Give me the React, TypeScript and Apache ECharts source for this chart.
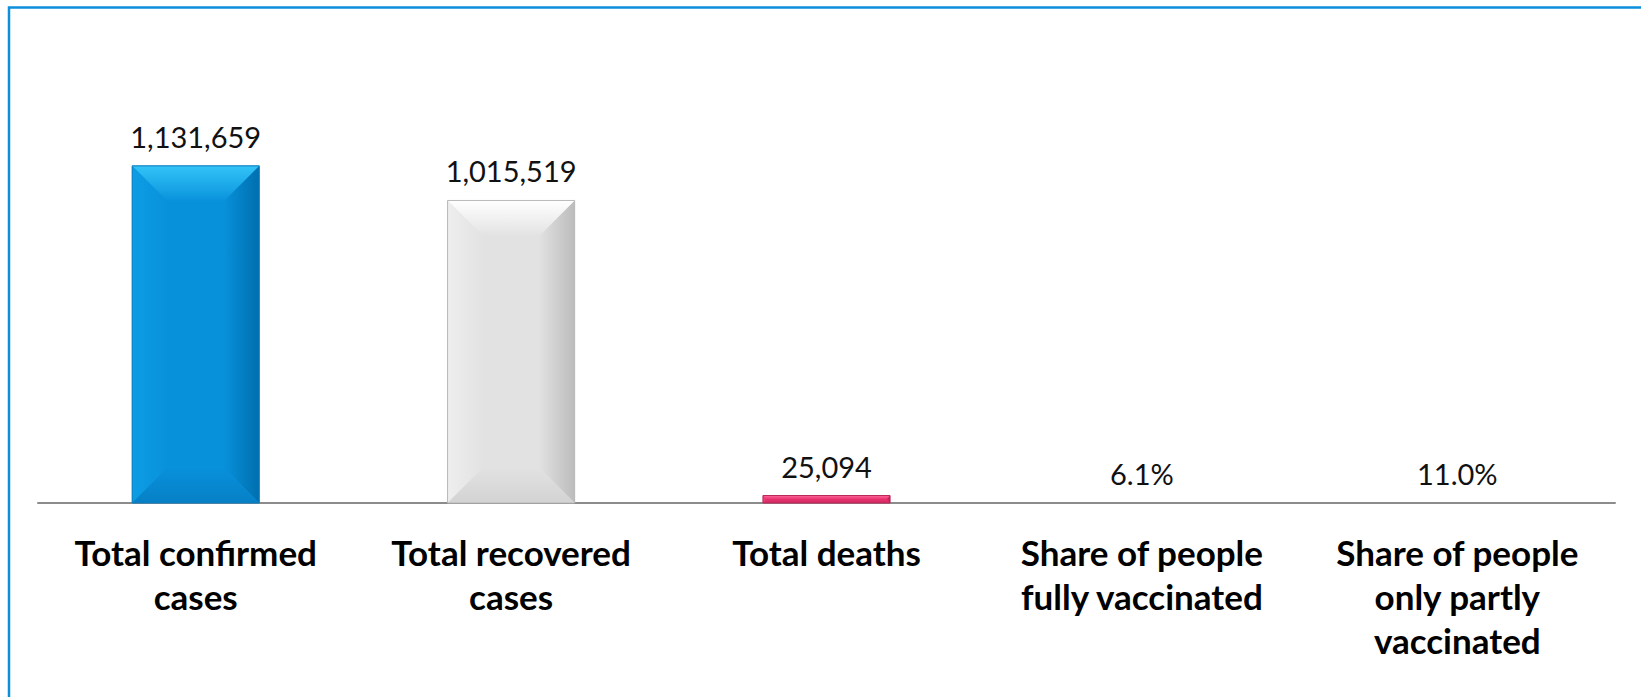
import React, { useEffect, useRef } from "react";
import * as echarts from "echarts";

const categories = [
  "Total confirmed\ncases",
  "Total recovered\ncases",
  "Total deaths",
  "Share of people\nfully vaccinated",
  "Share of people\nonly partly\nvaccinated",
];
const values = [1131659, 1015519, 25094, 0.061, 0.11];
const valueLabels = ["1,131,659", "1,015,519", "25,094", "6.1%", "11.0%"];

const blue = { main: "#0891db", top: "#33c4f8", left: "#0d9de4", right: "#006fae", bottom: "#0680c6", border: "#0a7bbd" };
const palettes = [
  blue,
  { main: "#e2e2e2", top: "#ffffff", left: "#eeeeee", right: "#bcbcbc", bottom: "#d3d3d3", border: "#b8b8b8" },
  { main: "#e8316f", top: "#ff6a9e", left: "#ef4580", right: "#b31c51", bottom: "#d02a63", border: "#b8285a" },
  blue,
  blue,
];

export default function App() {
  const ref = useRef<HTMLDivElement>(null);
  useEffect(() => {
    const chart = echarts.init(ref.current!, null, { renderer: "svg" });
    const data = values.map((v, i) => [i, v]);
    const lg = (x2: number, y2: number, c0: string, c1: string) =>
      new echarts.graphic.LinearGradient(0, 0, x2, y2, [
        { offset: 0, color: c0 },
        { offset: 1, color: c1 },
      ]);
    chart.setOption({
      animation: false,
      backgroundColor: "#ffffff",
      grid: { left: 38, right: 26, top: 145.5, bottom: 194 },
      xAxis: {
        type: "category",
        data: categories,
        axisLine: { show: true, lineStyle: { color: "#8c8c8c", width: 2 } },
        axisTick: { show: false },
        axisLabel: {
          interval: 0,
          margin: 27,
          color: "#000000",
          fontFamily: "Lato",
          fontWeight: "bold",
          fontSize: 35,
          lineHeight: 44,
          align: "center",
        },
      },
      yAxis: { type: "value", min: 0, max: 1200000, show: false, splitLine: { show: false } },
      graphic: [
        {
          type: "rect",
          shape: { x: 9, y: 7.5, width: 1700, height: 800 },
          style: { fill: "none", stroke: "#0d8fdb", lineWidth: 2.5 },
          z: 100,
        },
      ],
      series: [
        {
          type: "custom",
          data,
          clip: false,
          renderItem: (params: any, api: any) => {
            const idx = api.value(0);
            const val = api.value(1);
            const topPt = api.coord([idx, val]);
            const basePt = api.coord([idx, 0]);
            const bw = api.size([1, 0])[0] * 0.403;
            const cx = topPt[0];
            const x0 = cx - bw / 2;
            const x1 = cx + bw / 2;
            const y0 = topPt[1];
            const y1 = basePt[1];
            const h = y1 - y0;
            const p = palettes[idx];
            const children: any[] = [];
            if (h > 0.5) {
              const b = Math.min(36, h / 2, bw / 2);
              children.push(
                { type: "rect", shape: { x: x0, y: y0, width: bw, height: h }, style: { fill: p.main } },
                {
                  type: "polygon",
                  shape: { points: [[x0, y0], [x0 + b, y0 + b], [x0 + b, y1 - b], [x0, y1]] },
                  style: { fill: lg(1, 0, p.left, p.main) },
                },
                {
                  type: "polygon",
                  shape: { points: [[x1, y0], [x1 - b, y0 + b], [x1 - b, y1 - b], [x1, y1]] },
                  style: { fill: lg(1, 0, p.main, p.right) },
                },
                {
                  type: "polygon",
                  shape: { points: [[x0, y1], [x0 + b, y1 - b], [x1 - b, y1 - b], [x1, y1]] },
                  style: { fill: lg(0, 1, p.main, p.bottom) },
                },
                {
                  type: "polygon",
                  shape: { points: [[x0, y0], [x1, y0], [x1 - b, y0 + b], [x0 + b, y0 + b]] },
                  style: { fill: lg(0, 1, p.top, p.main) },
                },
                {
                  type: "rect",
                  shape: { x: x0, y: y0, width: bw, height: h },
                  style: { fill: "none", stroke: p.border, lineWidth: 1 },
                }
              );
            }
            children.push({
              type: "text",
              x: cx,
              y: y0 - 15,
              style: {
                text: valueLabels[idx],
                textAlign: "center",
                textVerticalAlign: "bottom",
                fill: "#111111",
                font: "29px Lato",
              },
            });
            return { type: "group", children };
          },
        },
      ],
    });
    return () => chart.dispose();
  }, []);
  return (
    <div
      ref={ref}
      style={{ position: "absolute", left: 0, top: 0, width: 1641, height: 697 }}
    />
  );
}
